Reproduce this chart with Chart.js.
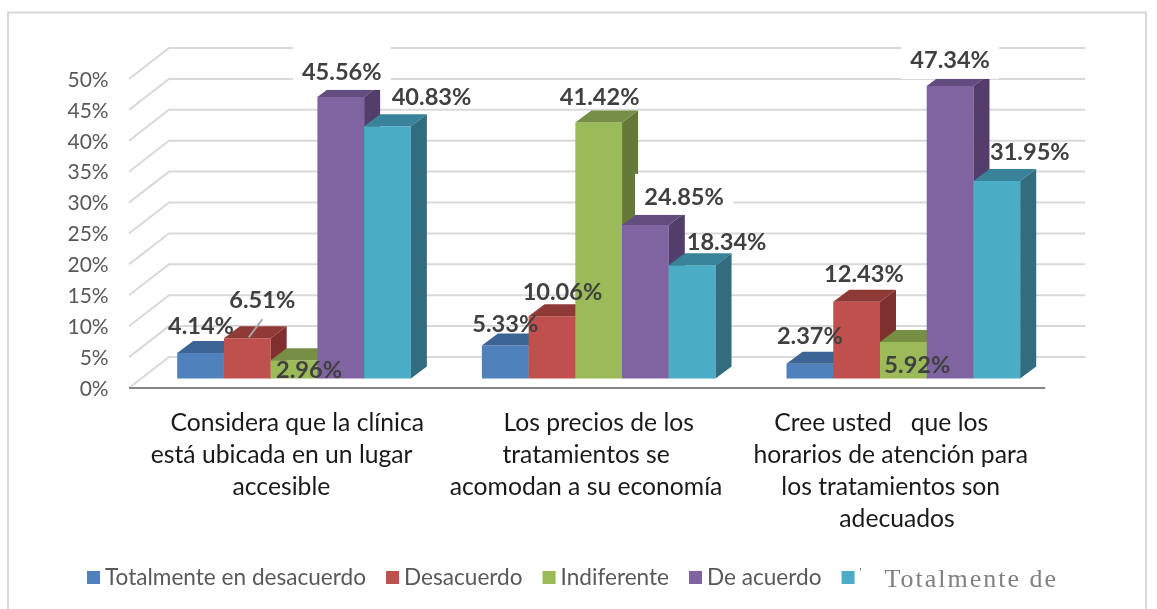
<!DOCTYPE html>
<html>
<head>
<meta charset="utf-8">
<style>html,body{margin:0;padding:0;background:#fff}canvas{display:block}</style>
<script src="https://cdn.jsdelivr.net/npm/chart.js@4/dist/chart.umd.min.js"></script>
</head>
<body>
<canvas id="c" width="1157" height="609" style="width:1157px;height:609px"></canvas>
<script>
const NB = '\u00A0';
const categories = [
  [NB + 'Considera que la clínica', 'está ubicada en un lugar' + NB.repeat(4), 'accesible' + NB.repeat(4)],
  ['Los precios de los', 'tratamientos se' + NB.repeat(4), 'acomodan a su economía' + NB.repeat(4)],
  ['Cree usted   que los' + NB.repeat(7), 'horarios de atención para' + NB.repeat(4), 'los tratamientos son' + NB.repeat(4), 'adecuados' + NB.repeat(2)]
];
const seriesNames = ['Totalmente en desacuerdo', 'Desacuerdo', 'Indiferente', 'De acuerdo', 'Totalmente de'];
const totalmenteDesacuerdo = [4.14, 5.33, 2.37];
const desacuerdo = [6.51, 10.06, 12.43];
const indiferente = [2.96, 41.42, 5.92];
const deAcuerdo = [45.56, 24.85, 47.34];
const totalmenteAcuerdo = [40.83, 18.34, 31.95];
const seriesValues = [totalmenteDesacuerdo, desacuerdo, indiferente, deAcuerdo, totalmenteAcuerdo];

const frontColors = ['#4F81BD', '#C0504D', '#9BBB59', '#8064A2', '#4BACC6'];
const topColors = ['#3C6595', '#903A38', '#778F44', '#634C7E', '#38839A'];
const sideColors = ['#335580', '#7F302E', '#657A38', '#533E6B', '#326D7F'];

// Label placement relative to the top centre of each bar: [series][category] = [dx, dy]
const labelNudges = [
  [[0.4, -27], [0, -21], [0, -27]],
  [[15, -38], [10.5, -24], [7.3, -27]],
  [[15, 10], [1, -25.5], [14, 23]],
  [[1, -25], [38.6, -28], [0, -26]],
  [[44, -29], [34.4, -23], [33, -29]]
];
// White label backgrounds: [series][category] = [halfWidth, up, down]
const labelBoxes = { '3:0': [49, 25, 18], '3:1': [49, 23, 18], '3:2': [49, 13, 19] };

const DEPTH_X = 16, DEPTH_Y = 12;
const WALL_X = 40, WALL_Y = 31, FRONT_DROP = 9.5, WALL_LEFT = 129;

const fakeCube = {
  id: 'fakeCube',
  beforeDraw(chart) {
    const c = chart.ctx;
    c.save();
    c.strokeStyle = '#d9d9d9';
    c.lineWidth = 2;
    c.beginPath();
    c.moveTo(8, 609); c.lineTo(8, 12.5); c.lineTo(1146, 12.5); c.lineTo(1146, 609);
    c.stroke();
    c.restore();
  },
  beforeDatasetsDraw(chart) {
    const c = chart.ctx, y = chart.scales.y, x = chart.scales.x;
    const wallRight = x.right + 29.5;
    c.save();
    c.strokeStyle = '#d9d9d9';
    c.lineWidth = 2;
    y.ticks.forEach(t => {
      const f = y.getPixelForValue(t.value) + FRONT_DROP;
      c.beginPath();
      c.moveTo(WALL_LEFT, f);
      c.lineTo(WALL_LEFT + WALL_X, f - WALL_Y);
      c.lineTo(wallRight, f - WALL_Y);
      c.stroke();
    });
    const f0 = y.getPixelForValue(0) + FRONT_DROP;
    c.strokeStyle = '#868686';
    c.beginPath();
    c.moveTo(WALL_LEFT, f0);
    c.lineTo(wallRight - WALL_X, f0);
    c.stroke();
    c.restore();
    // paint bars left to right so that each one overlaps its left neighbour's side
    seriesValues.forEach((vals, i) => {
      const meta = chart.getDatasetMeta(i);
      meta.controller.draw();
      c.save();
      meta.data.forEach(b => {
        const l = b.x - b.width / 2, r = b.x + b.width / 2, t = b.y, base = b.base;
        c.fillStyle = topColors[i];
        c.beginPath();
        c.moveTo(l, t); c.lineTo(l + DEPTH_X, t - DEPTH_Y);
        c.lineTo(r + DEPTH_X, t - DEPTH_Y); c.lineTo(r, t);
        c.closePath(); c.fill();
        c.fillStyle = sideColors[i];
        c.beginPath();
        c.moveTo(r, t); c.lineTo(r + DEPTH_X, t - DEPTH_Y);
        c.lineTo(r + DEPTH_X, base - DEPTH_Y); c.lineTo(r, base);
        c.closePath(); c.fill();
      });
      c.restore();
    });
  },
  beforeDatasetDraw() { return false; },
  afterDatasetsDraw(chart) {
    const c = chart.ctx;
    c.save();
    seriesValues.forEach((vals, s) => {
      chart.getDatasetMeta(s).data.forEach((b, k) => {
        const box = labelBoxes[s + ':' + k];
        if (!box) return;
        const n = labelNudges[s][k];
        const cx = b.x + n[0], cy = b.y + n[1];
        c.fillStyle = '#fff';
        c.fillRect(cx - box[0], cy - box[1], box[0] * 2, box[1] + box[2]);
      });
    });
    const lead = chart.getDatasetMeta(1).data[0];
    c.strokeStyle = '#a6a6a6';
    c.lineWidth = 2;
    c.beginPath();
    c.moveTo(lead.x + 15, lead.y - 19);
    c.lineTo(lead.x + 1.5, lead.y - 1);
    c.stroke();
    c.fillStyle = '#404040';
    c.font = 'bold 23.6px Lato';
    c.textAlign = 'center';
    c.textBaseline = 'middle';
    seriesValues.forEach((vals, s) => {
      chart.getDatasetMeta(s).data.forEach((b, k) => {
        const n = labelNudges[s][k];
        c.fillText(vals[k].toFixed(2) + '%', b.x + n[0], b.y + n[1]);
      });
    });
    c.restore();
  },
  afterDraw(chart) {
    const c = chart.ctx;
    const boxSize = 13, textGap = 5, itemGap = 20, cy = 578;
    let px = 87;
    c.save();
    c.textBaseline = 'middle';
    c.textAlign = 'left';
    seriesNames.forEach((name, s) => {
      c.fillStyle = frontColors[s];
      c.fillRect(px, cy - 7, boxSize, boxSize);
      px += boxSize + textGap;
      if (s < 4) {
        c.font = '22.6px Lato';
        c.fillStyle = '#595959';
        c.fillText(name, px, cy);
        px += c.measureText(name).width + itemGap;
      } else {
        c.fillStyle = '#404040';
        c.font = '9px Lato';
        c.fillText("'", px, cy - 6);
        c.font = '26px "Liberation Serif"';
        c.letterSpacing = '2px';
        c.fillStyle = '#808080';
        c.fillText(name, px + 25, cy + 2);
      }
    });
    c.restore();
  }
};

new Chart(document.getElementById('c'), {
  type: 'bar',
  plugins: [fakeCube],
  data: {
    labels: categories,
    datasets: seriesNames.map((name, s) => ({
      label: name,
      data: seriesValues[s],
      backgroundColor: frontColors[s],
      borderWidth: 0,
      categoryPercentage: 0.767,
      barPercentage: 1
    }))
  },
  options: {
    responsive: false,
    animation: false,
    layout: { padding: { top: 69.5, right: 101.3, left: 0, bottom: 0 } },
    plugins: { legend: { display: false }, tooltip: { enabled: false }, title: { display: false } },
    scales: {
      x: {
        grid: { display: false, drawTicks: false },
        border: { display: false },
        ticks: {
          color: '#1a1a1a',
          font: { family: 'Lato', size: 24.7, lineHeight: 32 / 24.7 },
          padding: 29,
          maxRotation: 0,
          minRotation: 0,
          autoSkip: false
        },
        afterFit(s) { s.height = 230.5; }
      },
      y: {
        min: 0,
        max: 50,
        grid: { display: false, drawTicks: false },
        border: { display: false },
        ticks: {
          stepSize: 5,
          color: '#595959',
          font: { family: 'Lato', size: 21 },
          padding: 33,
          labelOffset: 10.5,
          callback: v => v + '%'
        },
        afterFit(s) { s.width = 141.7; }
      }
    }
  }
});
</script>
</body>
</html>
